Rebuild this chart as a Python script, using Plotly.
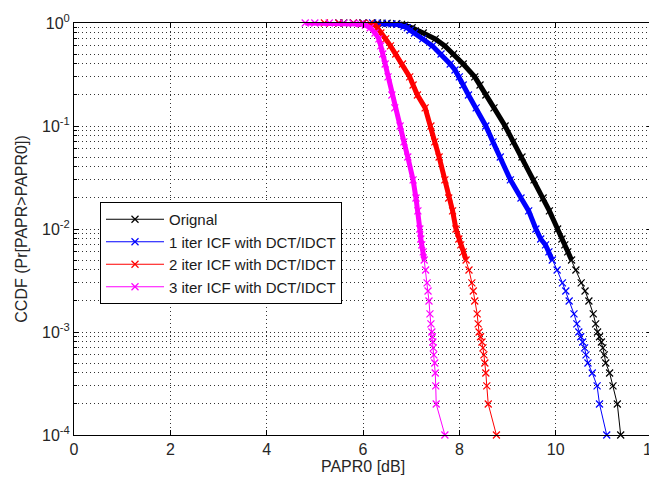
import numpy as np
import plotly.graph_objects as go

# ---------------- data ----------------
series_names = ["Orignal", "1 iter ICF with DCT/IDCT",
                "2 iter ICF with DCT/IDCT", "3 iter ICF with DCT/IDCT"]

papr_orig = [5.60, 6.00, 6.30, 6.50, 6.70, 6.80, 6.87, 7.02, 7.25, 7.50,
             7.70, 7.88, 8.08, 8.32, 8.43, 8.55, 8.72, 8.95, 9.12, 9.30,
             9.55, 9.74, 9.87, 10.04, 10.13, 10.19, 10.25, 10.33, 10.42, 10.53,
             10.61, 10.69, 10.78, 10.83, 10.87, 10.91, 10.95, 10.98, 11.01, 11.04,
             11.12, 11.19, 11.28, 11.35]
ccdf_orig = [1.0, 0.9999, 0.999, 0.995, 0.985, 0.97, 0.95, 0.9, 0.8, 0.7,
             0.6, 0.5, 0.4, 0.3, 0.25, 0.2, 0.15, 0.1, 0.07, 0.05,
             0.03, 0.02, 0.015, 0.01, 0.008, 0.007, 0.006, 0.005, 0.004, 0.003,
             0.0025, 0.002, 0.0015, 0.0012, 0.001, 9e-4, 8e-4, 7e-4, 6e-4, 5e-4,
             4e-4, 3e-4, 2e-4, 1e-4]

papr_1 = [5.50, 5.80, 6.00, 6.20, 6.40, 6.60, 6.70, 6.85, 6.92, 6.98,
          7.07, 7.24, 7.44, 7.62, 7.81, 7.91, 8.00, 8.08, 8.19, 8.35,
          8.55, 8.70, 8.85, 9.06, 9.28, 9.44, 9.59, 9.69, 9.79, 9.86,
          9.93, 10.03, 10.14, 10.21, 10.28, 10.38, 10.44, 10.48, 10.52, 10.56,
          10.60, 10.63, 10.67, 10.76, 10.86, 10.91, 11.06]
ccdf_1 = [1.0, 0.9999, 0.9997, 0.999, 0.995, 0.98, 0.97, 0.93, 0.9, 0.85,
          0.8, 0.7, 0.6, 0.5, 0.4, 0.35, 0.3, 0.25, 0.2, 0.15,
          0.1, 0.07, 0.05, 0.03, 0.02, 0.015, 0.01, 0.008, 0.007, 0.006,
          0.005, 0.004, 0.003, 0.0025, 0.002, 0.0015, 0.0012, 0.001, 9e-4, 8e-4,
          7e-4, 6e-4, 5e-4, 4e-4, 3e-4, 2e-4, 1e-4]

papr_2 = [5.20, 5.50, 5.80, 6.00, 6.15, 6.25, 6.30, 6.37, 6.47, 6.57,
          6.68, 6.82, 6.97, 7.04, 7.13, 7.29, 7.41, 7.49, 7.58, 7.70,
          7.78, 7.86, 7.93, 7.99, 8.03, 8.08, 8.14, 8.20, 8.26, 8.29,
          8.32, 8.37, 8.39, 8.41, 8.44, 8.47, 8.49, 8.51, 8.53, 8.55,
          8.57, 8.60, 8.77]
ccdf_2 = [1.0, 0.9999, 0.9995, 0.998, 0.99, 0.96, 0.9, 0.8, 0.7, 0.6,
          0.5, 0.4, 0.3, 0.25, 0.2, 0.15, 0.1, 0.07, 0.05, 0.03,
          0.02, 0.015, 0.01, 0.008, 0.007, 0.006, 0.005, 0.004, 0.003, 0.0025,
          0.002, 0.0015, 0.0012, 0.001, 9e-4, 8e-4, 7e-4, 6e-4, 5e-4, 4e-4,
          3e-4, 2e-4, 1e-4]

papr_3 = [4.80, 5.00, 5.30, 5.60, 5.80, 5.95, 6.05, 6.15, 6.25, 6.33,
          6.37, 6.41, 6.46, 6.52, 6.60, 6.66, 6.77, 6.85, 6.93, 7.04,
          7.10, 7.14, 7.18, 7.20, 7.22, 7.25, 7.27, 7.30, 7.33, 7.35,
          7.37, 7.39, 7.41, 7.43, 7.44, 7.45, 7.46, 7.47, 7.49, 7.50,
          7.51, 7.52, 7.70]
ccdf_3 = [1.0, 0.9999, 0.9995, 0.998, 0.993, 0.98, 0.95, 0.9, 0.8, 0.7,
          0.6, 0.5, 0.4, 0.3, 0.2, 0.15, 0.1, 0.07, 0.05, 0.03,
          0.02, 0.015, 0.01, 0.008, 0.007, 0.006, 0.005, 0.004, 0.003, 0.0025,
          0.002, 0.0015, 0.0012, 0.001, 9e-4, 8e-4, 7e-4, 6e-4, 5e-4, 4e-4,
          3e-4, 2e-4, 1e-4]

x_tickvals = [0, 2, 4, 6, 8, 10, 12]
x_ticktext = ["0", "2", "4", "6", "8", "10", "12"]
y_tickvals = [1e-4, 1e-3, 1e-2, 1e-1, 1]
y_ticktext = ["10<sup>-4</sup>", "10<sup>-3</sup>", "10<sup>-2</sup>",
              "10<sup>-1</sup>", "10<sup>0</sup>"]

# ---------------- styling ----------------
colors = ["#000000", "#0000FF", "#FF0000", "#FF00FF"]
FONT = "Liberation Sans, Arial, sans-serif"
all_x = [papr_orig, papr_1, papr_2, papr_3]
all_y = [ccdf_orig, ccdf_1, ccdf_2, ccdf_3]

fig = go.Figure()
for name, xs, ys, col in zip(series_names, all_x, all_y, colors):
    xa = np.array(xs)
    ya = np.array(ys)
    dense = ya >= 0.005
    # thick band where the original markers merge into a solid stroke
    fig.add_trace(go.Scatter(
        x=xa[dense], y=ya[dense], mode="lines",
        line=dict(color=col, width=5),
        showlegend=False, hoverinfo="skip", cliponaxis=False))
    fig.add_trace(go.Scatter(
        x=xa, y=ya, mode="lines+markers", name=name,
        line=dict(color=col, width=1),
        marker=dict(symbol="x-thin", size=7,
                    line=dict(color=col, width=1.2)),
        cliponaxis=False))

minor_vals = [k * 10.0 ** e for e in range(-4, 0) for k in range(2, 10)]

# the page body adds an 8 px offset, so the figure is 8 px smaller
fig.update_layout(
    width=649, height=472,
    margin=dict(l=66, r=5, t=15, b=45),
    paper_bgcolor="white", plot_bgcolor="white",
    font=dict(family=FONT, size=16, color="#262626"),
    showlegend=True,
    legend=dict(
        x=(100 - 74) / 578, y=(435 - 202) / 412,
        xanchor="left", yanchor="top",
        bgcolor="white", bordercolor="black", borderwidth=1,
        font=dict(family=FONT, size=15, color="#1a1a1a"),
        itemwidth=58, tracegroupgap=0,
    ),
    xaxis=dict(
        range=[0, 12], tickvals=x_tickvals, ticktext=x_ticktext,
        automargin=False, ticklabeloverflow="allow",
        showline=True, linecolor="black", linewidth=1, mirror="ticks",
        ticks="inside", ticklen=5, tickcolor="black",
        showgrid=True, gridcolor="#333333", griddash="1px,3px", gridwidth=1,
        zeroline=False,
        title=dict(text="PAPR0 [dB]", standoff=2,
                   font=dict(family=FONT, size=16, color="#262626")),
    ),
    yaxis=dict(
        type="log", range=[-4, 0], tickvals=y_tickvals, ticktext=y_ticktext,
        automargin=False,
        showline=True, linecolor="black", linewidth=1, mirror="ticks",
        ticks="inside", ticklen=5, tickcolor="black",
        showgrid=True, gridcolor="#333333", griddash="1px,3px", gridwidth=1,
        zeroline=False,
        minor=dict(tickvals=minor_vals, ticks="inside", ticklen=3,
                   tickcolor="black", showgrid=True, gridcolor="#333333",
                   griddash="1px,3px", gridwidth=1),
        title=dict(text="CCDF (Pr[PAPR>PAPR0])", standoff=10,
                   font=dict(family=FONT, size=16, color="#262626")),
    ),
)

fig.write_html("out.html")
